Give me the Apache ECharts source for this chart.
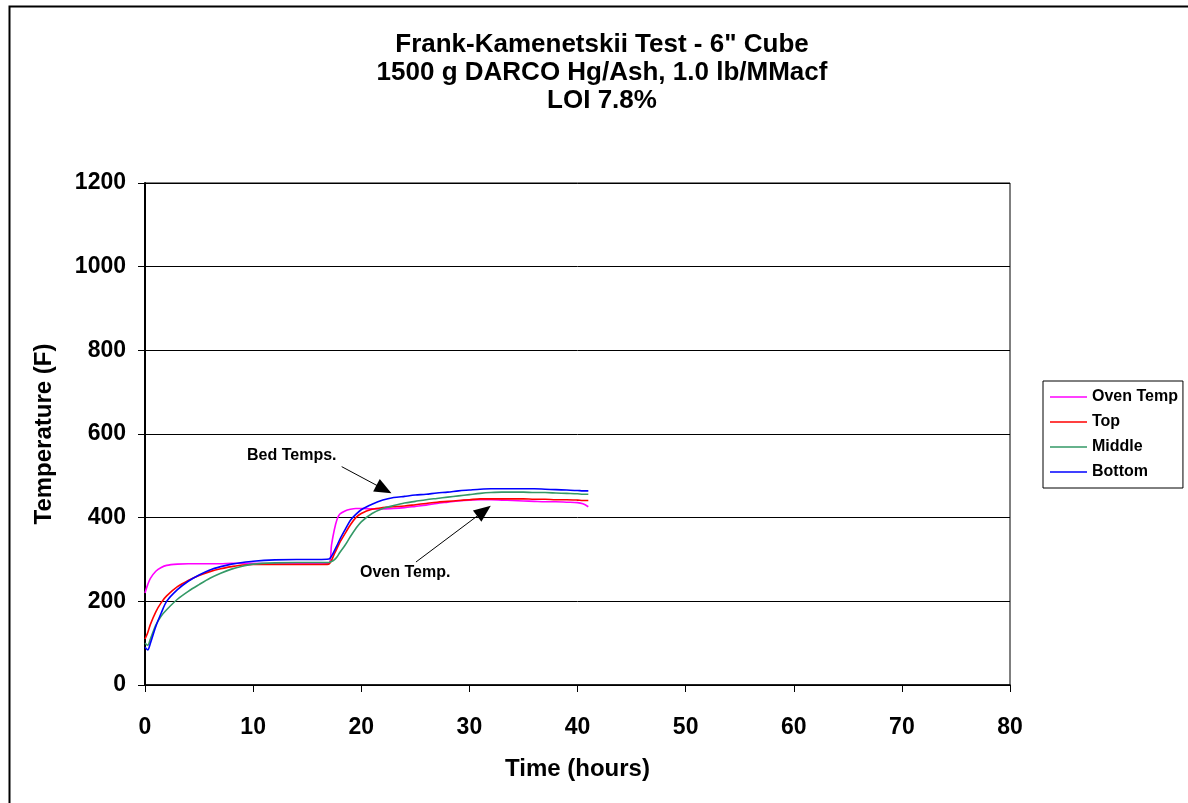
<!DOCTYPE html>
<html>
<head>
<meta charset="utf-8">
<script src="https://cdn.jsdelivr.net/npm/echarts@6/dist/echarts.min.js"></script>
<style>
html,body{margin:0;padding:0;background:#fff;}
#chart{width:1188px;height:803px;}
</style>
</head>
<body>
<div id="chart"></div>
<script>
const titleText = 'Frank-Kamenetskii Test - 6" Cube\n1500 g DARCO Hg/Ash, 1.0 lb/MMacf\nLOI 7.8%';
const seriesNames = ['Oven Temp', 'Top', 'Middle', 'Bottom'];
const timeHours = [0, 0.25, 0.5, 1, 1.5, 2, 3, 4, 5, 6, 7, 8, 9, 10, 12, 14, 16, 17, 17.25, 17.5, 17.75, 18, 18.5, 19, 19.5, 20, 21, 22, 23, 24, 25, 26, 27, 28, 29, 30, 31, 32, 33, 34, 35, 36, 37, 38, 39, 40, 40.5, 41];
const ovenTemp = [220, 240, 255, 272, 281, 286, 289, 290, 290, 290, 290, 291, 291, 291, 290, 290, 290, 291, 335, 370, 395, 408, 416, 420, 422, 422, 421, 421, 422, 424, 427, 430, 434, 437, 440, 442, 443, 443, 442, 441, 440, 439, 438, 438, 437, 436, 433, 426];
const topTemp = [110, 125, 145, 175, 197, 213, 235, 250, 262, 271, 278, 283, 287, 288, 288, 288, 288, 289, 298, 313, 326, 340, 362, 383, 400, 410, 420, 424, 426, 428, 431, 434, 437, 439, 441, 443, 445, 445, 445, 445, 445, 444, 444, 443, 443, 442, 441, 441];
const middleTemp = [100, 95, 110, 143, 165, 180, 205, 224, 240, 255, 267, 277, 284, 289, 292, 293, 293, 293, 295, 299, 306, 316, 334, 355, 374, 390, 410, 422, 429, 435, 439, 443, 446, 449, 452, 455, 458, 460, 461, 461, 461, 460, 460, 459, 458, 457, 456, 456];
const bottomTemp = [90, 84, 100, 140, 172, 200, 228, 248, 263, 275, 283, 289, 293, 296, 299, 300, 300, 301, 308, 320, 333, 347, 371, 394, 408, 419, 432, 442, 448, 451, 454, 456, 459, 461, 464, 466, 468, 469, 469, 469, 469, 469, 468, 467, 466, 465, 464, 464];
const xTicks = [0, 10, 20, 30, 40, 50, 60, 70, 80];
const yTicks = [0, 200, 400, 600, 800, 1000, 1200];
const bedArrow = [[18.19, 522], [22.1, 468]];
const ovenArrow = [[25.06, 294], [31.35, 416]];

const colors = ['#FF00FF', '#FF0000', '#339966', '#0000FF'];
const values = [ovenTemp, topTemp, middleTemp, bottomTemp];
const font = '"Liberation Sans", Arial, sans-serif';

const chart = echarts.init(document.getElementById('chart'), null, {renderer: 'canvas'});

const series = seriesNames.map((name, i) => ({
  name: name,
  type: 'line',
  data: timeHours.map((t, j) => [t, values[i][j]]),
  showSymbol: false,
  symbol: 'none',
  smooth: 0.3,
  lineStyle: {color: colors[i], width: 1.6},
  itemStyle: {color: colors[i]},
  z: 3 + i,
  animation: false
}));

series[0].markLine = {
  silent: true,
  animation: false,
  symbol: ['none', 'triangle'],
  symbolSize: [14, 17],
  label: {show: false},
  lineStyle: {color: '#000', width: 1, type: 'solid'},
  data: [
    [{coord: bedArrow[0]}, {coord: bedArrow[1]}],
    [{coord: ovenArrow[0]}, {coord: ovenArrow[1]}]
  ]
};

chart.setOption({
  animation: false,
  backgroundColor: '#fff',
  title: {
    text: titleText,
    left: 597,
    textAlign: 'center',
    top: 26,
    textStyle: {fontFamily: font, fontWeight: 'bold', fontSize: 26, lineHeight: 28, color: '#000'}
  },
  legend: {
    orient: 'vertical',
    left: 1043,
    top: 381,
    data: seriesNames,
    icon: 'rect',
    itemWidth: 37,
    itemHeight: 1.5,
    itemGap: 9,
    padding: [8, 5, 8, 7],
    borderColor: '#000',
    borderWidth: 1,
    backgroundColor: '#fff',
    textStyle: {fontFamily: font, fontWeight: 'bold', fontSize: 16, color: '#000'}
  },
  grid: {
    left: 145, right: 178, top: 183, bottom: 118,
    show: true, borderColor: '#000', borderWidth: 1, backgroundColor: 'transparent'
  },
  xAxis: {
    type: 'value',
    min: xTicks[0], max: xTicks[xTicks.length - 1], interval: 10,
    name: 'Time (hours)',
    nameLocation: 'middle',
    nameGap: 72,
    nameTextStyle: {fontFamily: font, fontWeight: 'bold', fontSize: 24, color: '#000'},
    axisLine: {lineStyle: {color: '#000', width: 1.5}},
    axisTick: {show: true, length: 7, lineStyle: {color: '#000'}},
    axisLabel: {fontFamily: font, fontWeight: 'bold', fontSize: 23, color: '#000', margin: 31},
    splitLine: {show: false}
  },
  yAxis: {
    type: 'value',
    min: yTicks[0], max: yTicks[yTicks.length - 1], interval: 200,
    name: 'Temperature (F)',
    nameLocation: 'middle',
    nameGap: 89,
    nameTextStyle: {fontFamily: font, fontWeight: 'bold', fontSize: 24, color: '#000'},
    axisLine: {show: true, lineStyle: {color: '#000', width: 2}},
    axisTick: {show: true, length: 7, lineStyle: {color: '#000'}},
    axisLabel: {fontFamily: font, fontWeight: 'bold', fontSize: 23, color: '#000', margin: 19,
      formatter: v => String(v)},
    splitLine: {show: true, lineStyle: {color: '#000', width: 1}}
  },
  graphic: [
    {type: 'rect', left: 7, top: 4, z: -10, silent: true,
     shape: {width: 1220, height: 840}, style: {fill: 'none', stroke: '#000', lineWidth: 2}},
    {type: 'text', left: 247, top: 448, z: 10, silent: true,
     style: {text: 'Bed Temps.', font: 'bold 16px ' + font, fill: '#000'}},
    {type: 'text', left: 360, top: 565, z: 10, silent: true,
     style: {text: 'Oven Temp.', font: 'bold 16px ' + font, fill: '#000'}}
  ],
  series: series
});
</script>
</body>
</html>
